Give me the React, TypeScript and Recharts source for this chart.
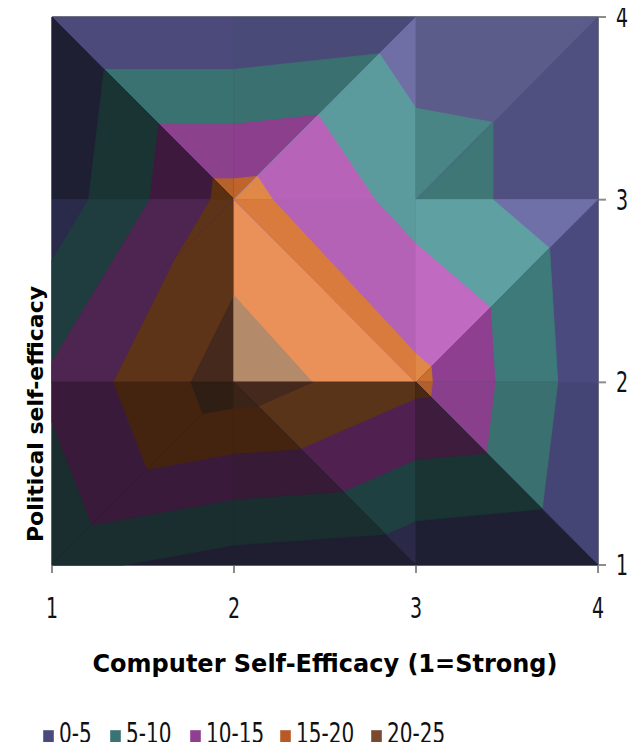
import { ScatterChart, Scatter, XAxis, YAxis, ReferenceLine } from "recharts";

type Pt = [number, number];

const xTicks = [1, 2, 3, 4];
const yTicks = [1, 2, 3, 4];
const bandLabels = ["0-5", "5-10", "10-15", "15-20", "20-25"];
const legendColors = ["#4a4a7e", "#3a7373", "#8e3f90", "#b85a28", "#7a4a30"];

// surface facets (two triangles per grid cell); each list holds the facet itself,
// then the parts of it that reach the next band floor (5, 10, 15, 20)
const facetA1: Pt[][] = [
  [[1, 4], [2, 4], [2, 3]],
  [[1.287, 3.713], [2, 3.713], [2, 3]],
  [[1.587, 3.413], [2, 3.413], [2, 3]],
  [[1.886, 3.114], [2, 3.114], [2, 3]],
];
const facetA2: Pt[][] = [
  [[1, 4], [2, 3], [1, 3]],
  [[1.287, 3.713], [2, 3], [1.201, 3]],
  [[1.587, 3.413], [2, 3], [1.537, 3]],
  [[1.886, 3.114], [2, 3], [1.872, 3]],
];
const facetB1: Pt[][] = [
  [[2, 4], [3, 4], [2, 3]],
  [[2, 3.713], [2.799, 3.799], [2, 3]],
  [[2, 3.413], [2.463, 3.463], [2, 3]],
  [[2, 3.114], [2.128, 3.128], [2, 3]],
];
const facetB2: Pt[][] = [
  [[3, 4], [3, 3], [2, 3]],
  [[2.799, 3.799], [3, 3.5], [3, 3], [2, 3]],
  [[2.463, 3.463], [2.775, 3], [2, 3]],
  [[2.128, 3.128], [2.213, 3], [2, 3]],
];
const facetC1: Pt[][] = [
  [[3, 4], [4, 4], [3, 3]],
  [[3, 3.5], [3.423, 3.423], [3, 3]],
];
const facetC2: Pt[][] = [
  [[4, 4], [4, 3], [3, 3]],
  [[3.423, 3.423], [3.423, 3], [3, 3]],
];
const facetD1: Pt[][] = [
  [[1, 3], [2, 3], [1, 2]],
  [[1.201, 3], [2, 3], [1, 2], [1, 2.667]],
  [[1.537, 3], [2, 3], [1, 2], [1, 2.111]],
  [[1.872, 3], [2, 3], [1.678, 2.678]],
];
const facetD2: Pt[][] = [
  [[1, 2], [2, 3], [2, 2]],
  [[1.678, 2.678], [2, 3], [2, 2], [1.339, 2]],
  [[2, 2.475], [2, 2], [1.763, 2]],
];
const facetE1: Pt[][] = [
  [[2, 3], [2, 2], [3, 2]],
  [[2, 2.475], [2, 2], [2.431, 2]],
];
const facetE2: Pt[][] = [
  [[2, 3], [3, 3], [3, 2]],
  [[2, 3], [2.775, 3], [3, 2.759], [3, 2]],
  [[2, 3], [2.213, 3], [3, 2.157], [3, 2]],
];
const facetF1: Pt[][] = [
  [[3, 3], [4, 3], [3, 2]],
  [[3, 3], [3.423, 3], [3.734, 2.734], [3, 2]],
  [[3, 2.759], [3.409, 2.409], [3, 2]],
  [[3, 2.157], [3.084, 2.084], [3, 2]],
];
const facetF2: Pt[][] = [
  [[4, 3], [4, 2], [3, 2]],
  [[3.734, 2.734], [3.779, 2], [3, 2]],
  [[3.409, 2.409], [3.434, 2], [3, 2]],
  [[3.084, 2.084], [3.09, 2], [3, 2]],
];
const facetG1: Pt[][] = [
  [[1, 1], [1, 2], [2, 2]],
  [[1, 1.783], [1, 2], [2, 2], [1.22, 1.22]],
  [[1.339, 2], [2, 2], [1.524, 1.524]],
  [[1.763, 2], [2, 2], [1.829, 1.829]],
];
const facetG2: Pt[][] = [
  [[1, 1], [2, 1], [2, 2]],
  [[1, 1], [1.389, 1], [2, 1.11], [2, 2]],
  [[1.22, 1.22], [2, 1.36], [2, 2]],
  [[1.524, 1.524], [2, 1.61], [2, 2]],
  [[1.829, 1.829], [2, 1.86], [2, 2]],
];
const facetH1: Pt[][] = [
  [[2, 2], [3, 2], [3, 1]],
  [[2, 2], [3, 2], [3, 1.242], [2.832, 1.168]],
  [[2, 2], [3, 2], [3, 1.577], [2.598, 1.402]],
  [[2, 2], [3, 2], [3, 1.913], [2.364, 1.636]],
  [[2, 2], [2.431, 2], [2.131, 1.869]],
];
const facetH2: Pt[][] = [
  [[2, 2], [2, 1], [3, 1]],
  [[2, 2], [2, 1.11], [2.832, 1.168]],
  [[2, 2], [2, 1.36], [2.598, 1.402]],
  [[2, 2], [2, 1.61], [2.364, 1.636]],
  [[2, 2], [2, 1.86], [2.131, 1.869]],
];
const facetI1: Pt[][] = [
  [[3, 2], [4, 2], [4, 1]],
  [[3, 2], [3.779, 2], [3.693, 1.307]],
  [[3, 2], [3.434, 2], [3.387, 1.613]],
  [[3, 2], [3.09, 2], [3.08, 1.92]],
];
const facetI2: Pt[][] = [
  [[3, 2], [3, 1], [4, 1]],
  [[3, 2], [3, 1.242], [3.693, 1.307]],
  [[3, 2], [3, 1.577], [3.387, 1.613]],
  [[3, 2], [3, 1.913], [3.08, 1.92]],
];

// first band index of every facet's base triangle
const facets = [
  { id: "A1", first: 0, regions: facetA1 },
  { id: "A2", first: 0, regions: facetA2 },
  { id: "B1", first: 0, regions: facetB1 },
  { id: "B2", first: 0, regions: facetB2 },
  { id: "C1", first: 0, regions: facetC1 },
  { id: "C2", first: 0, regions: facetC2 },
  { id: "D1", first: 0, regions: facetD1 },
  { id: "D2", first: 2, regions: facetD2 },
  { id: "E1", first: 3, regions: facetE1 },
  { id: "E2", first: 1, regions: facetE2 },
  { id: "F1", first: 0, regions: facetF1 },
  { id: "F2", first: 0, regions: facetF2 },
  { id: "G1", first: 1, regions: facetG1 },
  { id: "G2", first: 0, regions: facetG2 },
  { id: "H1", first: 0, regions: facetH1 },
  { id: "H2", first: 0, regions: facetH2 },
  { id: "I1", first: 0, regions: facetI1 },
  { id: "I2", first: 0, regions: facetI2 },
];

// lit / shaded colour of each band on each facet
const shades: Record<string, string[]> = {
  A1: ["#4b4a7b", "#3a7272", "#8c418c", "#b5622c"],
  A2: ["#1f1f33", "#1a3333", "#3d1a3d", "#5a3010"],
  B1: ["#4a4a78", "#3a7070", "#8c3f8c", "#c0652a"],
  B2: ["#6f6fa6", "#5b9b9e", "#b764b8", "#e08848"],
  C1: ["#5c5c8a", "#4a8585"],
  C2: ["#4f4f80", "#3f7777"],
  D1: ["#2a2a4a", "#1f3d3f", "#4e2450", "#5e3418"],
  D2: ["", "", "#4e2450", "#5e3418", "#45291d"],
  E1: ["", "", "", "#ea915a", "#b38a6a"],
  E2: ["", "#5b9b9e", "#b462b6", "#d97b3d"],
  F1: ["#7070a8", "#5fa0a3", "#c06ac2", "#e08848"],
  F2: ["#4a4a7e", "#3e7a7a", "#8e3f90", "#c8702f"],
  G1: ["", "#1a2e30", "#3a1a3a", "#45240f", "#2e1e14"],
  G2: ["#1e1e30", "#1a2e30", "#3a1a3a", "#45240f", "#2e1e14"],
  H1: ["#2a2a48", "#1e4040", "#502050", "#5a3418", "#45291d"],
  H2: ["#1e1e30", "#1a2e30", "#361a36", "#45240f", "#3a2418"],
  I1: ["#454575", "#3a7070", "#8a3f8c", "#b0602b"],
  I2: ["#1f1f33", "#1a3333", "#3e1c3e", "#4a2812"],
};

const FONT = "DejaVu Sans";
const AXIS = "#8c8c8c";
const STRETCH = 1.45;
const TICK_SIZE = 19;
const legendX = [35, 102, 182, 272, 363];

const regions = facets.flatMap((f) =>
  f.regions.map((pts, k) => ({
    key: `${f.id}-${k}`,
    color: shades[f.id][f.first + k],
    data: [...pts, pts[0]].map(([x, y]) => ({ x, y })),
  }))
);

const XTick = (p: any) => (
  <g transform={`translate(${p.x},${p.y + 43}) scale(1,${STRETCH})`}>
    <text x={0} y={0} textAnchor="middle" fontFamily={FONT} fontSize={TICK_SIZE} fill="#111">
      {p.payload.value}
    </text>
  </g>
);

const YTick = (p: any) => (
  <g transform={`translate(${p.x + 8},${p.y + 10}) scale(1,${STRETCH})`}>
    <text x={0} y={0} textAnchor="start" fontFamily={FONT} fontSize={TICK_SIZE} fill="#111">
      {p.payload.value}
    </text>
  </g>
);

const XTitle = (p: any) => {
  const vb = p.viewBox || { x: 44, y: 565, width: 546, height: 110 };
  return (
    <text x={vb.x + vb.width / 2} y={vb.y + 107} textAnchor="middle" fontFamily={FONT} fontWeight="bold" fontSize={24} fill="#000">
      Computer Self-Efficacy (1=Strong)
    </text>
  );
};

const YTitle = (p: any) => {
  const vb = p.viewBox || { x: 0, y: 17, width: 44, height: 548 };
  const x = vb.x + 35;
  const y = vb.y + 397;
  return (
    <text x={x} y={y} transform={`rotate(-90, ${x}, ${y})`} textAnchor="middle" fontFamily={FONT} fontWeight="bold" fontSize={22} fill="#000">
      Political self-efficacy
    </text>
  );
};

export default function App() {
  return (
    <div style={{ position: "relative", width: 634, height: 742, marginTop: -8, fontFamily: FONT }}>
      <ScatterChart width={634} height={698} margin={{ top: 17, right: 0, bottom: 23, left: 0 }}>
        <XAxis
          type="number"
          dataKey="x"
          domain={[1, 4]}
          ticks={xTicks}
          interval={0}
          height={110}
          axisLine={false}
          tickLine={{ stroke: AXIS, strokeWidth: 2 }}
          tickSize={8}
          tick={XTick}
          label={<XTitle />}
        />
        <YAxis
          yAxisId="left"
          orientation="left"
          type="number"
          domain={[1, 4]}
          width={44}
          tick={false}
          axisLine={false}
          tickLine={false}
          label={<YTitle />}
        />
        <YAxis
          type="number"
          dataKey="y"
          orientation="right"
          domain={[1, 4]}
          ticks={yTicks}
          interval={0}
          width={44}
          axisLine={false}
          tickLine={{ stroke: AXIS, strokeWidth: 2 }}
          tickSize={8}
          tick={YTick}
        />
        {regions.map((r) => (
          <Scatter
            key={r.key}
            data={r.data}
            fill={r.color}
            line={{ fill: r.color, stroke: r.color, strokeWidth: 0.8 }}
            lineJointType="linear"
            shape={() => <g />}
            legendType="none"
            isAnimationActive={false}
          />
        ))}
        <ReferenceLine y={4} stroke={AXIS} strokeWidth={2} />
        <ReferenceLine y={1} stroke={AXIS} strokeWidth={2} />
        <ReferenceLine x={1} stroke={AXIS} strokeWidth={2} />
        <ReferenceLine x={4} stroke={AXIS} strokeWidth={2} />
      </ScatterChart>
      <svg width={634} height={38} style={{ position: "absolute", left: 0, top: 712 }}>
        {bandLabels.map((b, i) => (
          <g key={b}>
            <rect x={legendX[i]} y={18} width={11} height={15} fill={legendColors[i]} stroke="#ffffff" strokeOpacity={0.4} />
            <g transform={`translate(${legendX[i] + 16},30.5) scale(1,1.4)`}>
              <text x={0} y={0} fontFamily={FONT} fontSize={20} fill="#111">
                {b}
              </text>
            </g>
          </g>
        ))}
      </svg>
    </div>
  );
}
